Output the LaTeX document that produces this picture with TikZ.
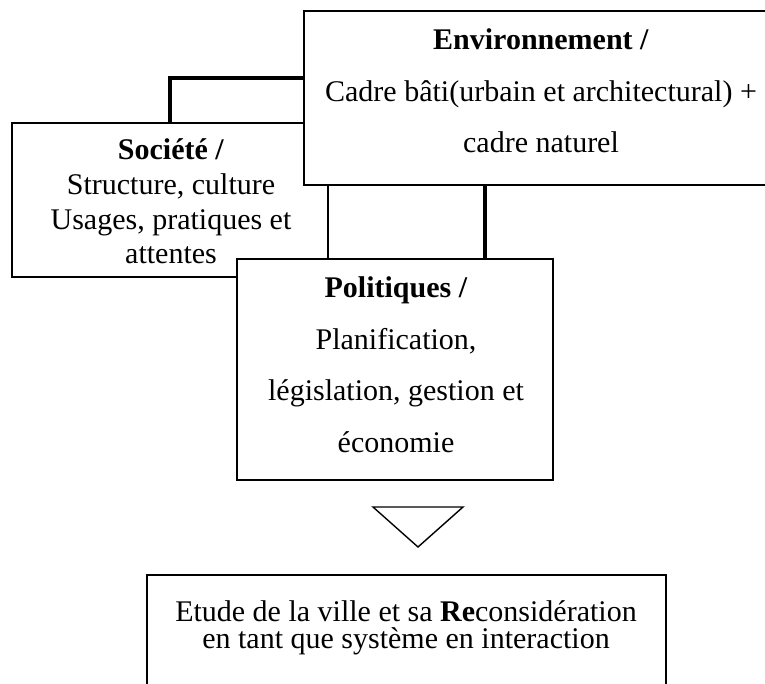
\documentclass[tikz,border=0pt]{standalone}
\usepackage{fontspec}
\setmainfont{Liberation Serif}
\begin{document}
\begin{tikzpicture}[x=1pt,y=-1pt,
  every node/.style={font=\fontsize{30}{36}\selectfont},
  box/.style={draw, fill=white, line width=1.4pt, rectangle, inner sep=0pt},
  txt/.style={anchor=base, inner sep=0pt},
  link/.style={line width=4.5pt}]
\useasboundingbox (0,0) rectangle (765,684);
\clip (0,0) rectangle (765,684);

% Société box (lies underneath the other two)
\node[box, minimum width=316pt, minimum height=154pt] (soc) at (170,200) {};
\node[txt] (soc1) at (171,160) {\textbf{Société /}};
\node[txt] (soc2) at (171,194.7) {Structure, culture};
\node[txt] (soc3) at (171,229.3) {Usages, pratiques et};
\node[txt] (soc4) at (171,264) {attentes};

% Bend point and x position of the thick links
\coordinate (k1) at (0,78);
\coordinate (k2) at (485,0);

% Environnement box
\node[box, minimum width=474pt, minimum height=174pt] (env) at (541,98) {};
\node[txt] (env1) at (541,50) {\textbf{Environnement /}};
\node[txt] (env2) at (541,101.5) {Cadre bâti(urbain et architectural) +};
\node[txt] (env3) at (541,153) {cadre naturel};

% Politiques box
\node[box, minimum width=316pt, minimum height=221pt] (pol) at (395,369.5) {};
\node[txt] (pol1) at (396,298) {\textbf{Politiques /}};
\node[txt] (pol2) at (396,349.3) {Planification,};
\node[txt] (pol3) at (396,400.6) {législation, gestion et};
\node[txt] (pol4) at (396,452) {économie};

% Thick links between the boxes
\draw[link] (soc.north) |- (env.west |- k1);
\draw[link] (env.south -| k2) -- (pol.north -| k2);

% Downward triangle
\draw[line width=1.4pt, line join=miter] (373,507) -- (463,507) -- (418,547) -- cycle;

% Result box, running off the bottom edge
\node[box, minimum width=519pt, minimum height=140pt] (res) at (406.5,645) {};
\node[txt] (res1) at (406,621) {Etude de la ville et sa \textbf{Re}considération};
\node[txt] (res2) at (406,648) {en tant que système en interaction};
\end{tikzpicture}
\end{document}
